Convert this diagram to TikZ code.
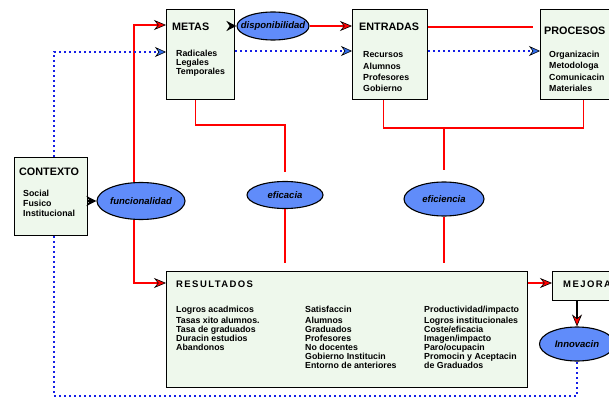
\documentclass[tikz,border=0pt]{standalone}
\usepackage{fontspec}
\setmainfont{Liberation Sans}
\newfontfamily\spacedfont[LetterSpace=15]{Liberation Sans}
\usepackage{xcolor}
\usepackage{tikz}
\usetikzlibrary{shapes,arrows,positioning,calc,arrows.meta}

\definecolor{boxgreen}{RGB}{238,248,236}
\definecolor{ovalblue}{RGB}{96,140,250}
\definecolor{dotblue}{RGB}{20,30,230}
\definecolor{tipblue}{RGB}{50,110,240}

\begin{document}
\begin{tikzpicture}[x=1pt,y=-1pt,
    box/.style={draw, line width=1.1pt, fill=boxgreen, anchor=north west, inner sep=0pt},
    oval/.style={ellipse, draw, line width=1.1pt, fill=ovalblue, inner sep=0pt, font=\fontsize{9.5}{11}\selectfont\bfseries\itshape},
    boxtitle/.style={anchor=west, inner sep=0pt, font=\fontsize{10.8}{12}\selectfont\bfseries},
    spacedtitle/.style={anchor=west, inner sep=0pt, font=\spacedfont\fontsize{9.5}{11}\selectfont\bfseries},
    boxitems/.style={anchor=north west, inner sep=0pt, align=left, font=\fontsize{8.8}{9}\selectfont\bfseries},
    redline/.style={draw=red, line width=1.3pt},
    redarrow/.style={redline, -{Stealth[length=12pt,width=10pt,color=black,fill=red,line width=0.6pt]}},
    blackarrow/.style={draw=black, line width=1.3pt, -{Stealth[length=10pt,width=10pt,fill=black]}},
    tiparrow/.style={draw=black, line width=1.3pt, -{Stealth[length=12pt,width=10pt,color=black,fill=red,line width=0.6pt]}},
    bluedots/.style={draw=dotblue, line width=1.8pt, dash pattern=on 2pt off 3pt},
    bluearrow/.style={bluedots, -{Stealth[length=11pt,width=10pt,color=black,fill=tipblue,line width=0.6pt]}}]
    \useasboundingbox (0,0) rectangle (609,398);
    \clip (0,0) rectangle (609,398);

    % Boxes
    \node[box, minimum width=68pt, minimum height=90pt] (metas) at (166,9) {};
    \node[box, minimum width=75pt, minimum height=90pt] (entradas) at (352,9) {};
    \node[box, minimum width=86pt, minimum height=90pt] (procesos) at (540,9) {};
    \node[box, minimum width=73pt, minimum height=78pt] (contexto) at (14,157) {};
    \node[box, minimum width=361pt, minimum height=116pt] (resultados) at (166,271) {};
    \node[box, minimum width=60pt, minimum height=29pt] (mejora) at (552,271) {};

    % Box texts
    \node[boxtitle] (metasT) at (172,27) {METAS};
    \node[boxitems] (metasI) at (176,49.5) {Radicales\\Legales\\Temporales};
    \node[boxtitle] (entradasT) at (359,27) {ENTRADAS};
    \node[boxitems, font=\fontsize{8.8}{11.4}\selectfont\bfseries] (entradasI) at (363,51.5) {Recursos\\Alumnos\\Profesores\\Gobierno};
    \node[boxtitle] (procesosT) at (544,31) {PROCESOS};
    \node[boxitems, font=\fontsize{8.8}{11.6}\selectfont\bfseries] (procesosI) at (549,50.5) {Organizacin\\Metodologa\\Comunicacin\\Materiales};
    \node[boxtitle] (contextoT) at (19,172) {CONTEXTO};
    \node[boxitems, font=\fontsize{8.8}{10}\selectfont\bfseries] (contextoI) at (23,189.5) {Social\\Fusico\\Institucional};
    \node[spacedtitle] (resultadosT) at (176,284) {RESULTADOS};
    \node[boxitems] (logros) at (176,305.5) {Logros acadmicos\\[2pt]Tasas xito alumnos.\\Tasa de graduados\\Duracin estudios\\Abandonos};
    \node[boxitems] (satisf) at (305,305.5) {Satisfaccin\\[2pt]Alumnos\\Graduados\\Profesores\\No docentes\\Gobierno Institucin\\Entorno de anteriores};
    \node[boxitems] (product) at (424,305.5) {Productividad/impacto\\[2pt]Logros institucionales\\Coste/eficacia\\Imagen/impacto\\Paro/ocupacin\\Promocin y Aceptacin\\de Graduados};
    \node[spacedtitle] (mejoraT) at (563,284) {MEJORA};

    % Ovals
    \node[oval, minimum width=72pt, minimum height=28pt] (dispo) at (273,26) {\makebox[0pt]{disponibilidad}};
    \node[oval, minimum width=88pt, minimum height=37pt] (func) at (141,201) {\makebox[0pt]{funcionalidad}};
    \node[oval, minimum width=76pt, minimum height=27pt] (eficacia) at (285,195) {\makebox[0pt]{eficacia}};
    \node[oval, minimum width=80pt, minimum height=34pt] (eficiencia) at (444,199) {\makebox[0pt]{eficiencia}};
    \node[oval, minimum width=75pt, minimum height=34pt] (innov) at (577,344) {\makebox[0pt]{Innovacin}};

    % Connections
    \draw[blackarrow] (contexto.east |- func.west) -- (func.west);
    \draw[redarrow] ([xshift=-7pt]func.north) |- ([yshift=-16pt]metas.north west);
    \draw[redarrow] ([xshift=-7pt]func.south) |- ([yshift=-12pt]resultados.north west);
    \draw[blackarrow] ([yshift=-17pt]metas.north east) -- (dispo.west);
    \draw[redarrow] (dispo.east) -- (dispo.east -| entradas.west);
    \draw[redline, shorten >=7pt] ([yshift=-18pt]entradas.north east) -- ([yshift=-18pt]procesos.north west);
    \draw[bluearrow] ([xshift=3pt]contexto.north) |- ([yshift=-43pt]metas.north west);
    \draw[bluearrow] ([yshift=-42pt]metas.north east) -- ([yshift=-42pt]entradas.north west);
    \draw[bluearrow] ([yshift=-42pt]entradas.north east) -- ([yshift=-42pt]procesos.north west);
    \coordinate (bottom) at (0,396);
    \draw[bluedots] ([xshift=3pt]contexto.south) |- (innov.south |- bottom) -- (innov.south);
    \draw[redline, shorten >=9pt] ([xshift=-5pt]metas.south) -- ++(0,25) -| (eficacia.north);
    \draw[redline, shorten >=8pt] (eficacia.south) -- (eficacia.south |- resultados.north);
    \draw[redline] ([xshift=-6.5pt]entradas.south) -- ++(0,28) coordinate (join) -| (procesos.south);
    \draw[redline, shorten >=11pt] (join -| eficiencia.north) -- (eficiencia.north);
    \draw[redline, shorten >=8pt] (eficiencia.south) -- (eficiencia.south |- resultados.north);
    \draw[redarrow] ([yshift=-12pt]resultados.north east) -- ([yshift=-12pt]mejora.north west);
    \draw[tiparrow] (mejora.south -| innov.north) -- (innov.north);
\end{tikzpicture}
\end{document}
